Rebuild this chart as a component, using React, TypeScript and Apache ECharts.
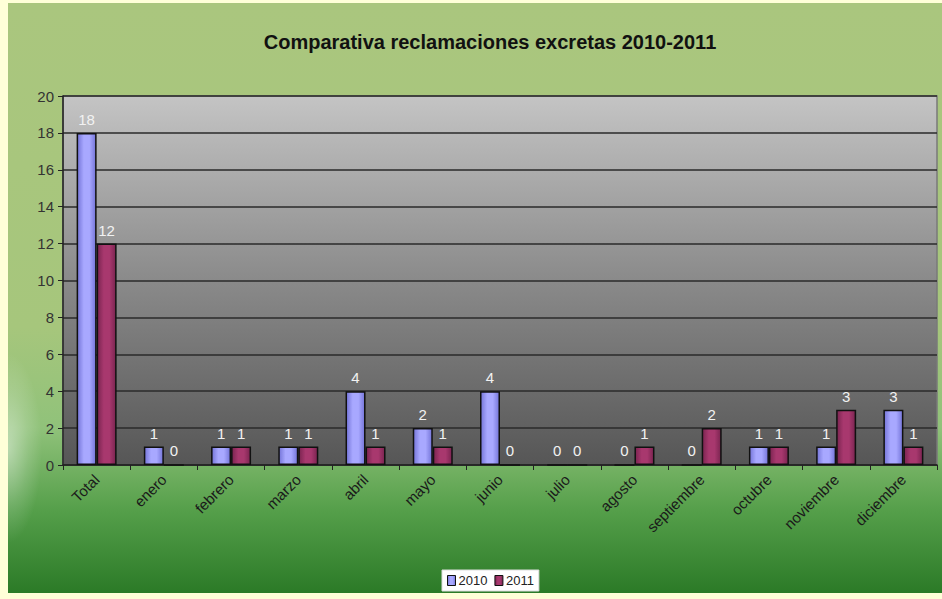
import React, { useEffect, useRef } from "react";
import * as echarts from "echarts";

const categories = ["Total", "enero", "febrero", "marzo", "abril", "mayo", "junio", "julio", "agosto", "septiembre", "octubre", "noviembre", "diciembre"];
const values2010 = [18, 1, 1, 1, 4, 2, 4, 0, 0, 0, 1, 1, 3];
const values2011 = [12, 0, 1, 1, 1, 1, 0, 0, 1, 2, 1, 3, 1];
const seriesNames = ["2010", "2011"];
const titleText = "Comparativa reclamaciones excretas 2010-2011";

const FONT = "Liberation Sans, Arial, sans-serif";

function barGrad(edge: string, mid: string) {
  return new echarts.graphic.LinearGradient(0, 0, 1, 0, [
    { offset: 0, color: edge },
    { offset: 0.35, color: mid },
    { offset: 0.65, color: mid },
    { offset: 1, color: edge },
  ]);
}

export default function App() {
  const ref = useRef<HTMLDivElement>(null);
  useEffect(() => {
    if (!ref.current) return;
    const chart = echarts.init(ref.current, undefined, { renderer: "svg" });
    const labelStyle = {
      show: true,
      position: "top" as const,
      color: "#F2F2F2",
      fontFamily: FONT,
      fontSize: 15,
      distance: 6,
    };
    chart.setOption({
      animation: false,
      backgroundColor: new echarts.graphic.LinearGradient(0, 0, 0, 1, [
        { offset: 0, color: "#AAC67E" },
        { offset: 0.55, color: "#A6C67C" },
        { offset: 0.72, color: "#90C27A" },
        { offset: 0.86, color: "#559F4A" },
        { offset: 1, color: "#2B7A27" },
      ]),
      graphic: [
        {
          type: "ellipse",
          shape: { cx: 0, cy: 445, rx: 34, ry: 95 },
          style: {
            fill: new echarts.graphic.RadialGradient(0.5, 0.5, 0.5, [
              { offset: 0, color: "rgba(255,255,255,0.45)" },
              { offset: 0.6, color: "rgba(255,255,255,0.15)" },
              { offset: 1, color: "rgba(255,255,255,0)" },
            ]),
          },
          silent: true,
          z: -1,
        },
      ],
      title: {
        text: titleText,
        left: 477,
        textAlign: "center",
        top: 24,
        textStyle: { fontFamily: FONT, fontWeight: "bold", fontSize: 20, color: "#111" },
      },
      legend: {
        bottom: 2,
        left: 434,
        data: seriesNames,
        icon: "rect",
        itemWidth: 8,
        itemHeight: 10,
        itemGap: 7,
        itemStyle: { borderColor: "#111", borderWidth: 1 },
        backgroundColor: "#FFFFFF",
        borderColor: "#DDDDDD",
        borderWidth: 1,
        padding: [4, 5],
        borderRadius: 0,
        textStyle: { fontFamily: FONT, fontSize: 13, color: "#222", padding: [0, 0, 0, -2] },
      },
      grid: {
        left: 55,
        right: 5,
        top: 93,
        bottom: 128,
        show: true,
        backgroundColor: new echarts.graphic.LinearGradient(0, 0, 0, 1, [
          { offset: 0, color: "#C4C4C4" },
          { offset: 0.5, color: "#8A8A8A" },
          { offset: 1, color: "#565656" },
        ]),
        borderColor: "#7A7A7A",
        borderWidth: 1.5,
      },
      xAxis: {
        type: "category",
        data: categories,
        axisLine: { lineStyle: { color: "#222", width: 1.5 } },
        axisTick: { show: true, length: 5, lineStyle: { color: "#222" } },
        axisLabel: {
          rotate: 45,
          fontFamily: FONT,
          fontSize: 15,
          color: "#1A1A1A",
          margin: 12,
          interval: 0,
        },
      },
      yAxis: {
        type: "value",
        min: 0,
        max: 20,
        interval: 2,
        axisLine: { show: true, lineStyle: { color: "#222", width: 1.5 } },
        axisTick: { show: true, length: 5, lineStyle: { color: "#222" } },
        axisLabel: { fontFamily: FONT, fontSize: 15, color: "#333", margin: 9 },
        splitLine: { lineStyle: { color: "#2A2A2A", width: 1.5 } },
      },
      series: [
        {
          name: seriesNames[0],
          type: "bar",
          data: values2010,
          barWidth: 20,
          barGap: "0%",
          itemStyle: { color: barGrad("#7474D8", "#A8A8FF"), borderColor: "#111", borderWidth: 1.5 },
          label: labelStyle,
        },
        {
          name: seriesNames[1],
          type: "bar",
          data: values2011,
          barWidth: 20,
          itemStyle: { color: barGrad("#7A2450", "#A8386E"), borderColor: "#111", borderWidth: 1.5 },
          label: labelStyle,
        },
      ],
    });
    return () => chart.dispose();
  }, []);
  return (
    <div style={{ position: "fixed", left: 0, top: 0, width: 942, height: 599, background: "#FFFFD8" }}>
      <div ref={ref} style={{ position: "absolute", left: 8, top: 3, width: 934, height: 590 }} />
    </div>
  );
}
